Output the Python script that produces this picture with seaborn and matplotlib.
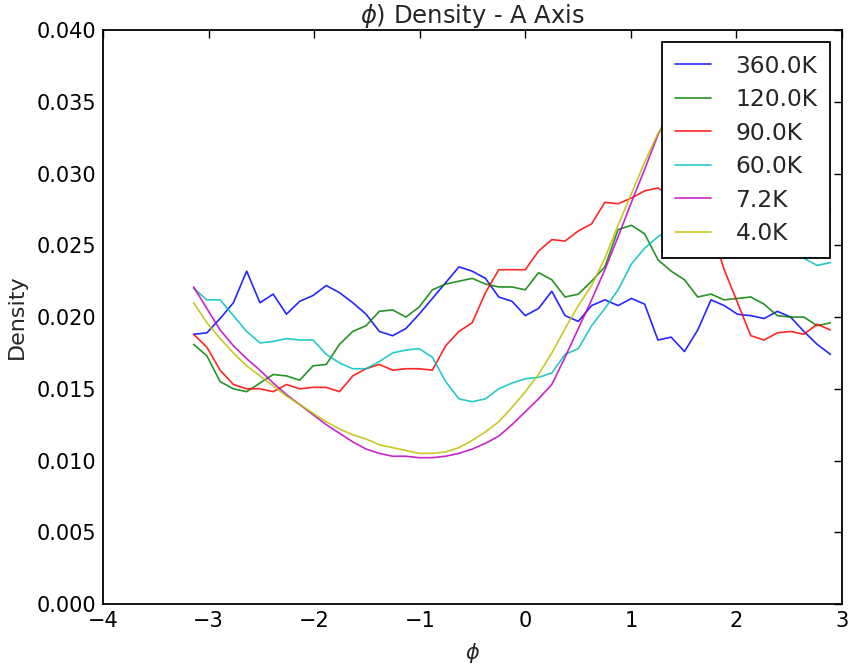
import numpy as np
import pandas as pd
import matplotlib
matplotlib.use("Agg")
import matplotlib.pyplot as plt
import seaborn as sns
from matplotlib.ticker import FormatStrFormatter

# ---- data ----
phi = np.linspace(-np.pi, np.pi, 51)[:49]

labels = ["360.0K", "120.0K", "90.0K", "60.0K", "7.2K", "4.0K"]
colors = ["#0000ff", "#008000", "#ff0000", "#00bfbf", "#bf00bf", "#bfbf00"]

d360 = [0.0188, 0.0189, 0.0199, 0.0210, 0.0232, 0.0210, 0.0216, 0.0202, 0.0211, 0.0215,
        0.0222, 0.0217, 0.0210, 0.0202, 0.0190, 0.0187, 0.0192, 0.0202, 0.0213, 0.0224,
        0.0235, 0.0232, 0.0227, 0.0214, 0.0211, 0.0201, 0.0206, 0.0218, 0.0201, 0.0197,
        0.0208, 0.0212, 0.0208, 0.0213, 0.0209, 0.0184, 0.0186, 0.0176, 0.0191, 0.0212,
        0.0208, 0.0202, 0.0201, 0.0199, 0.0204, 0.0200, 0.0190, 0.0181, 0.0174]
d120 = [0.0181, 0.0173, 0.0155, 0.0150, 0.0148, 0.0154, 0.0160, 0.0159, 0.0156, 0.0166,
        0.0167, 0.0181, 0.0190, 0.0194, 0.0204, 0.0205, 0.0200, 0.0207, 0.0219, 0.0223,
        0.0225, 0.0227, 0.0223, 0.0221, 0.0221, 0.0219, 0.0231, 0.0226, 0.0214, 0.0216,
        0.0225, 0.0235, 0.0261, 0.0264, 0.0258, 0.0240, 0.0232, 0.0226, 0.0214, 0.0216,
        0.0212, 0.0213, 0.0214, 0.0209, 0.0201, 0.0200, 0.0200, 0.0194, 0.0196]
d90 = [0.0188, 0.0179, 0.0163, 0.0153, 0.0150, 0.0150, 0.0148, 0.0153, 0.0150, 0.0151,
       0.0151, 0.0148, 0.0159, 0.0164, 0.0167, 0.0163, 0.0164, 0.0164, 0.0163, 0.0180,
       0.0190, 0.0196, 0.0217, 0.0233, 0.0233, 0.0233, 0.0246, 0.0254, 0.0253, 0.0260,
       0.0265, 0.0280, 0.0279, 0.0283, 0.0288, 0.0290, 0.0284, 0.0283, 0.0276, 0.0262,
       0.0233, 0.0210, 0.0187, 0.0184, 0.0189, 0.0190, 0.0188, 0.0195, 0.0191]
d60 = [0.0220, 0.0212, 0.0212, 0.0201, 0.0190, 0.0182, 0.0183, 0.0185, 0.0184, 0.0184,
       0.0174, 0.0168, 0.0164, 0.0164, 0.0169, 0.0175, 0.0177, 0.0178, 0.0172, 0.0155,
       0.0143, 0.0141, 0.0143, 0.0150, 0.0154, 0.0157, 0.0158, 0.0161, 0.0174, 0.0178,
       0.0194, 0.0206, 0.0219, 0.0237, 0.0248, 0.0256, 0.0262, 0.0266, 0.0268, 0.0267,
       0.0264, 0.0260, 0.0256, 0.0252, 0.0249, 0.0246, 0.0241, 0.0236, 0.0238]
d7 = [0.0221, 0.0206, 0.0191, 0.0180, 0.0171, 0.0163, 0.0154, 0.0146, 0.0139, 0.0132,
      0.0125, 0.0119, 0.0113, 0.0108, 0.0105, 0.0103, 0.0103, 0.0102, 0.0102, 0.0103,
      0.0105, 0.0108, 0.0112, 0.0117, 0.0125, 0.0134, 0.0143, 0.0153, 0.0172, 0.0192,
      0.0212, 0.0233, 0.0256, 0.0280, 0.0303, 0.0327, 0.0345, 0.0360, 0.0370, 0.0376,
      0.0378, 0.0376, 0.0370, 0.0360, 0.0347, 0.0330, 0.0312, 0.0293, 0.0275]
d4 = [0.0210, 0.0196, 0.0185, 0.0175, 0.0166, 0.0159, 0.0152, 0.0145, 0.0139, 0.0133,
      0.0127, 0.0122, 0.0118, 0.0115, 0.0111, 0.0109, 0.0107, 0.0105, 0.0105, 0.0106,
      0.0109, 0.0114, 0.0120, 0.0127, 0.0137, 0.0148, 0.0160, 0.0175, 0.0192, 0.0208,
      0.0222, 0.0241, 0.0264, 0.0286, 0.0308, 0.0328, 0.0342, 0.0356, 0.0366, 0.0372,
      0.0374, 0.0372, 0.0366, 0.0356, 0.0343, 0.0327, 0.0309, 0.0290, 0.0272]

series = [d360, d120, d90, d60, d7, d4]

df = pd.concat(
    [pd.DataFrame({"phi": phi, "density": vals, "T": lab}) for lab, vals in zip(labels, series)],
    ignore_index=True,
)

# ---- style ----
sns.set_style("white")
plt.rcParams["font.family"] = ["DejaVu Sans"]
plt.rcParams["mathtext.fontset"] = "dejavusans"

fig = plt.figure(figsize=(8.51, 6.70), dpi=100)
ax = fig.add_axes([0.121, 0.0985, 0.9894 - 0.121, 0.955 - 0.0985])

sns.lineplot(data=df, x="phi", y="density", hue="T", hue_order=labels,
             palette=colors, linewidth=1.2, errorbar=None, legend=False,
             sort=False, ax=ax)
for ln in ax.lines:
    ln.set_alpha(0.85)

ax.set_xlim(-4, 3)
ax.set_ylim(0, 0.040)
ax.set_xticks(np.arange(-4, 4, 1))
ax.set_yticks(np.arange(0, 0.0401, 0.005))
ax.yaxis.set_major_formatter(FormatStrFormatter("%.3f"))
ax.tick_params(direction="in", top=True, right=True, length=6, width=1,
               labelsize=15, pad=5, colors="black")
for sp in ax.spines.values():
    sp.set_color("black")
    sp.set_linewidth(1.3)

ax.set_title(r"$\phi$) Density - A Axis", fontsize=17.5, pad=5)
ax.set_xlabel(r"$\phi$", fontsize=15, labelpad=7)
ax.set_ylabel("Density", fontsize=16, labelpad=7)

leg = ax.legend(ax.lines, labels, loc="upper right", fontsize=16.8,
                frameon=True, fancybox=False, edgecolor="black",
                framealpha=1, handlelength=1.55, handletextpad=1.05,
                labelspacing=0.45, borderpad=0.55, borderaxespad=0.5)
leg.get_frame().set_linewidth(1.3)

fig.savefig("out.png", dpi=100, facecolor="white")
